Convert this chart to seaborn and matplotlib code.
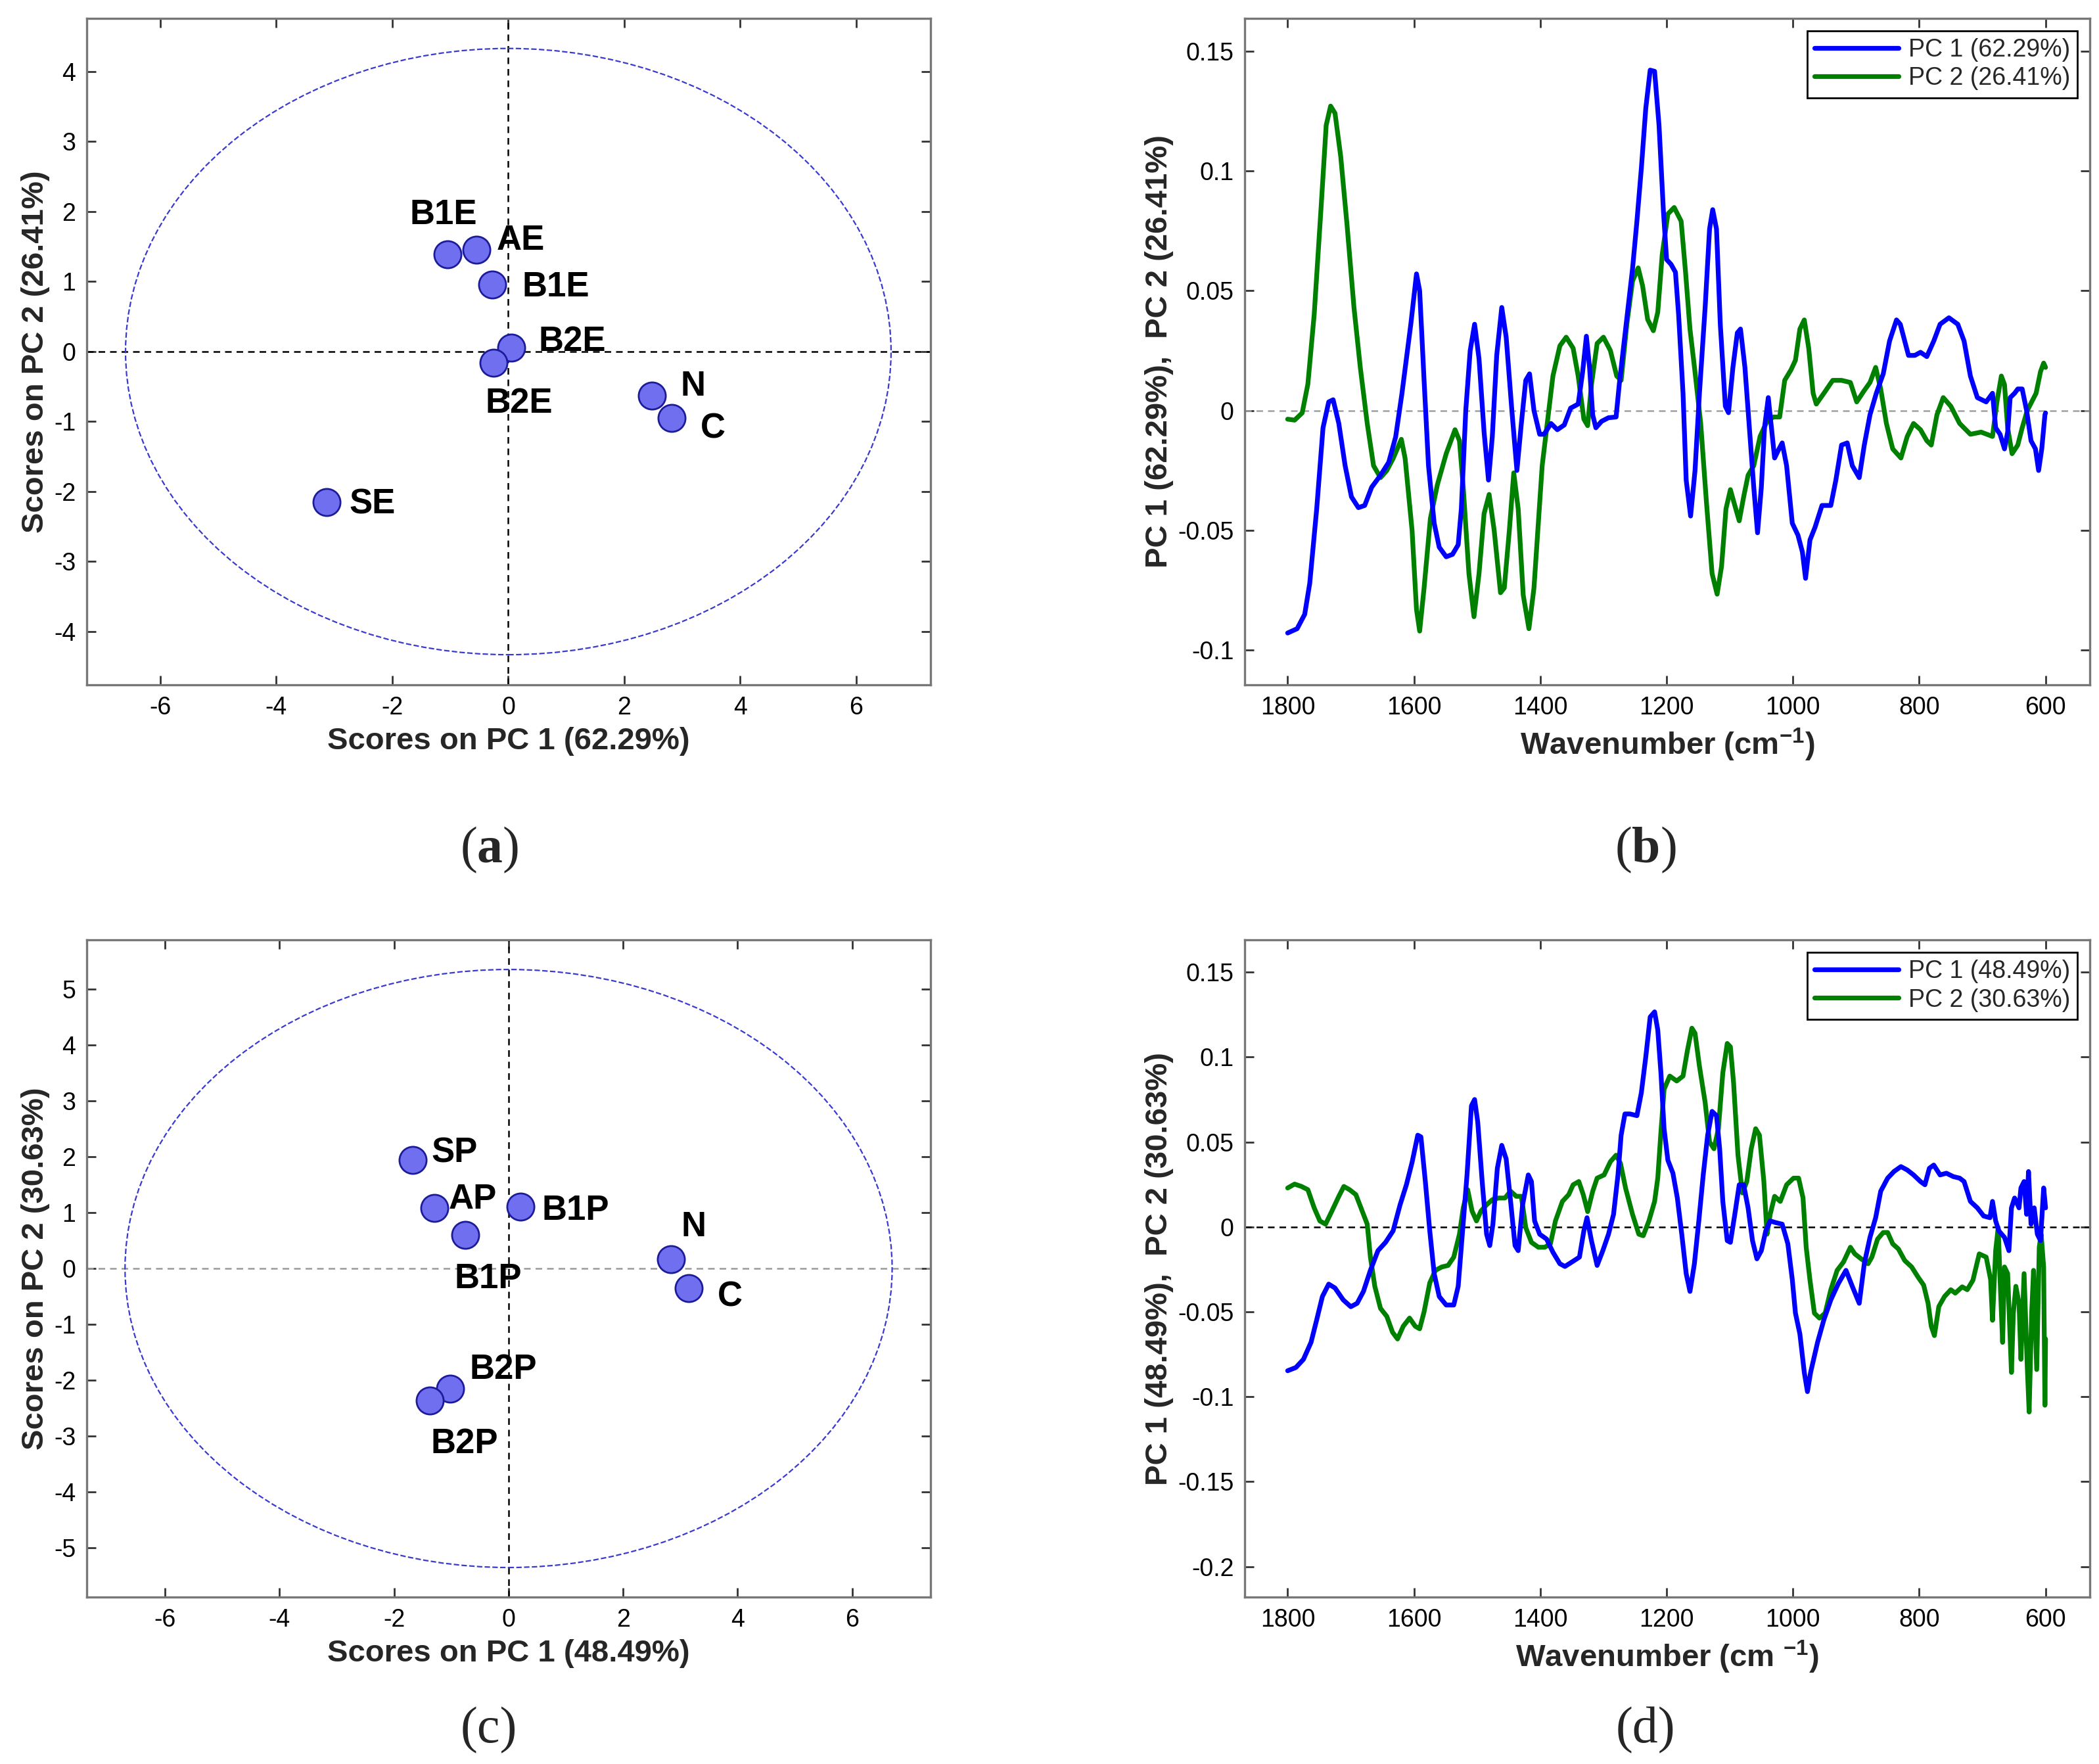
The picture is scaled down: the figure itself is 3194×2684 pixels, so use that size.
import numpy as np
import pandas as pd
import matplotlib
matplotlib.use('Agg')
import matplotlib.pyplot as plt
from matplotlib.patches import Ellipse
from matplotlib.ticker import FuncFormatter
import seaborn as sns

# ---- score plots (a) and (c) ----
names_a = ['B1E', 'AE', 'B1E', 'B2E', 'B2E', 'N', 'C', 'SE']
pc1_a = [-1.05, -0.55, -0.28, 0.05, -0.26, 2.48, 2.82, -3.13]
pc2_a = [1.39, 1.45, 0.96, 0.06, -0.16, -0.63, -0.95, -2.15]
ellipse_a = (6.6, 4.33)

names_c = ['SP', 'AP', 'B1P', 'B1P', 'N', 'C', 'B2P', 'B2P']
pc1_c = [-1.68, -1.30, 0.21, -0.76, 2.84, 3.15, -1.02, -1.38]
pc2_c = [1.94, 1.08, 1.11, 0.60, 0.16, -0.35, -2.15, -2.36]
ellipse_c = (6.7, 5.35)

# ---- loadings (b) ----
wn_b1 = [1800, 1785, 1773, 1765, 1754, 1744, 1735, 1728, 1719, 1709, 1699, 1688, 1678, 1667, 1653,
         1640, 1629, 1619, 1605, 1596, 1591, 1584, 1577, 1568, 1560, 1549, 1539, 1530, 1525, 1518,
         1511, 1504, 1497, 1489, 1482, 1476, 1469, 1461, 1454, 1445, 1437, 1430, 1423, 1417, 1410,
         1401, 1394, 1383, 1373, 1362, 1352, 1340, 1333, 1327, 1322, 1317, 1312, 1303, 1292, 1280,
         1275, 1268, 1261, 1254, 1247, 1240, 1233, 1226, 1219, 1212, 1205, 1200, 1193, 1186, 1181,
         1174, 1169, 1162, 1155, 1148, 1139, 1132, 1127, 1121, 1115, 1107, 1102, 1095, 1088, 1083,
         1076, 1069, 1062, 1056, 1050, 1045, 1039, 1034, 1029, 1022, 1017, 1010, 1001, 992, 985,
         980, 973, 965, 954, 940, 932, 923, 914, 906, 895, 887, 878, 868, 857, 847,
         836, 830, 817, 807, 798, 788, 777, 767, 753, 739, 729, 719, 708, 694, 684,
         679, 672, 665, 660, 656, 649, 644, 637, 630, 623, 616, 611, 606, 601, 600]
pc1_b = [-0.0928, -0.091, -0.085, -0.072, -0.041, -0.0072, 0.0036, 0.0045, -0.0054, -0.023, -0.036, -0.0405, -0.0396, -0.032, -0.027,
         -0.0216, -0.011, 0.0072, 0.036, 0.057, 0.050, 0.0126, -0.023, -0.047, -0.057, -0.061, -0.060, -0.056, -0.041, 0.0,
         0.025, 0.036, 0.0216, -0.009, -0.029, -0.011, 0.023, 0.043, 0.0306, 0.0, -0.025, -0.0054, 0.0126, 0.0153, 0.0,
         -0.0099, -0.0099, -0.0054, -0.008, -0.006, 0.001, 0.0027, 0.016, 0.031, 0.018, -0.0018, -0.0072, -0.0045, -0.003, -0.0027,
         0.0108, 0.027, 0.043, 0.059, 0.079, 0.101, 0.126, 0.142, 0.1415, 0.119, 0.083, 0.063, 0.061, 0.0577, 0.040,
         0.0072, -0.029, -0.044, -0.025, 0.0072, 0.043, 0.0757, 0.0838, 0.0757, 0.036, 0.0018, -0.0009, 0.018, 0.0324, 0.034,
         0.018, -0.0072, -0.032, -0.051, -0.032, -0.0072, 0.0054, -0.0072, -0.0198, -0.016, -0.0135, -0.023, -0.047, -0.052, -0.059,
         -0.070, -0.054, -0.0487, -0.0396, -0.0396, -0.029, -0.0144, -0.0135, -0.023, -0.028, -0.0144, -0.0018, 0.0072, 0.0153, 0.029,
         0.0378, 0.036, 0.023, 0.023, 0.0243, 0.0225, 0.029, 0.036, 0.0387, 0.036, 0.029, 0.0144, 0.0054, 0.0036, 0.0072,
         -0.0072, -0.0099, -0.016, -0.009, 0.0054, 0.0072, 0.009, 0.009, 0.0, -0.0126, -0.016, -0.025, -0.016, -0.0018, -0.001]

wn_b2 = [1800, 1789, 1777, 1768, 1758, 1747, 1739, 1732, 1725, 1716, 1706, 1695, 1685, 1674, 1664,
         1653, 1643, 1633, 1620, 1614, 1603, 1596, 1591, 1584, 1574, 1563, 1549, 1535, 1528, 1522,
         1513, 1505, 1497, 1489, 1481, 1473, 1463, 1457, 1449, 1442, 1435, 1427, 1418, 1410, 1397,
         1389, 1380, 1369, 1359, 1348, 1340, 1331, 1325, 1319, 1310, 1300, 1289, 1279, 1272, 1263,
         1254, 1245, 1238, 1230, 1221, 1214, 1207, 1198, 1188, 1177, 1170, 1163, 1155, 1146, 1137,
         1128, 1120, 1113, 1106, 1099, 1092, 1085, 1078, 1071, 1062, 1052, 1041, 1031, 1021, 1013,
         1003, 996, 989, 982, 975, 968, 963, 951, 937, 923, 909, 899, 888, 878, 869,
         861, 852, 842, 829, 819, 809, 798, 788, 781, 772, 762, 750, 736, 719, 702,
         684, 677, 670, 665, 660, 653, 644, 637, 629, 622, 615, 608, 603, 600]
pc2_b = [-0.0036, -0.004, -0.001, 0.011, 0.040, 0.085, 0.119, 0.127, 0.124, 0.106, 0.0775, 0.043, 0.018, -0.0054, -0.023,
         -0.028, -0.025, -0.020, -0.012, -0.020, -0.050, -0.083, -0.092, -0.074, -0.045, -0.031, -0.018, -0.008, -0.0126, -0.032,
         -0.068, -0.086, -0.068, -0.043, -0.035, -0.050, -0.076, -0.074, -0.050, -0.026, -0.041, -0.077, -0.091, -0.074, -0.023,
         -0.0054, 0.0144, 0.027, 0.0306, 0.026, 0.0144, -0.0036, -0.0063, 0.0108, 0.028, 0.0306, 0.025, 0.0144, 0.0126, 0.036,
         0.054, 0.0595, 0.052, 0.038, 0.0333, 0.041, 0.065, 0.082, 0.0847, 0.079, 0.0577, 0.034, 0.016, -0.0054, -0.038,
         -0.068, -0.0766, -0.065, -0.041, -0.033, -0.0396, -0.046, -0.036, -0.027, -0.023, -0.0108, -0.0045, -0.0027, -0.0027, 0.0126,
         0.017, 0.021, 0.034, 0.0378, 0.026, 0.0072, 0.0027, 0.0072, 0.0126, 0.0126, 0.0117, 0.0036, 0.008, 0.0117, 0.018,
         0.009, -0.0054, -0.016, -0.0198, -0.0108, -0.0054, -0.008, -0.0126, -0.0144, -0.0018, 0.0054, 0.0018, -0.0054, -0.0099, -0.009,
         -0.0108, 0.0036, 0.0144, 0.0108, -0.0072, -0.018, -0.0144, -0.0072, 0.0, 0.0036, 0.0072, 0.0162, 0.0198, 0.018]

# ---- loadings (d) ----
wn_d1 = [1800, 1787, 1775, 1763, 1754, 1745, 1735, 1725, 1712, 1700, 1690, 1680, 1669, 1657, 1645,
         1633, 1622, 1612, 1603, 1594, 1589, 1582, 1575, 1568, 1560, 1549, 1537, 1530, 1523, 1516,
         1509, 1504, 1499, 1492, 1485, 1480, 1475, 1468, 1461, 1454, 1447, 1440, 1435, 1428, 1419,
         1414, 1409, 1401, 1390, 1380, 1369, 1361, 1350, 1338, 1331, 1326, 1319, 1310, 1301, 1292,
         1284, 1277, 1272, 1266, 1258, 1247, 1240, 1233, 1226, 1219, 1214, 1209, 1204, 1198, 1190,
         1183, 1176, 1169, 1163, 1156, 1149, 1142, 1135, 1128, 1121, 1116, 1111, 1104, 1099, 1092,
         1085, 1078, 1071, 1064, 1057, 1050, 1043, 1036, 1027, 1017, 1008, 1001, 996, 989, 982,
         977, 972, 961, 951, 940, 928, 916, 906, 895, 887, 878, 869, 861, 850, 840,
         829, 819, 809, 798, 791, 784, 777, 767, 757, 746, 736, 729, 719, 708, 698,
         688, 684, 679, 674, 665, 658, 654, 649, 642, 639, 634, 630, 627, 623, 618,
         613, 608, 603, 600]
pc1_d = [-0.0847, -0.0828, -0.078, -0.068, -0.0547, -0.041, -0.0337, -0.036, -0.043, -0.047, -0.045, -0.038, -0.0256, -0.014, -0.0091,
         -0.0023, 0.013, 0.0248, 0.038, 0.054, 0.053, 0.0267, -0.0023, -0.0275, -0.041, -0.046, -0.046, -0.035, -0.0023, 0.0306,
         0.0713, 0.075, 0.0616, 0.0267, -0.0043, -0.011, 0.0016, 0.0345, 0.048, 0.040, 0.015, -0.011, -0.014, 0.013, 0.0306,
         0.0267, 0.0035, -0.0043, -0.0072, -0.0149, -0.0217, -0.0233, -0.0207, -0.0178, -0.0023, 0.0054, -0.0081, -0.0227, -0.014, -0.0043,
         0.0074, 0.0306, 0.054, 0.0665, 0.0665, 0.0655, 0.079, 0.100, 0.1236, 0.1266, 0.116, 0.0907, 0.0578, 0.0393, 0.0316,
         0.017, -0.0043, -0.0275, -0.038, -0.0217, 0.0035, 0.0306, 0.054, 0.068, 0.0655, 0.046, 0.015, -0.0081, -0.0091, 0.0074,
         0.0248, 0.0248, 0.0112, -0.0081, -0.0188, -0.014, -0.0023, 0.0035, 0.0025, 0.0016, -0.010, -0.031, -0.0508, -0.063, -0.0857,
         -0.097, -0.0857, -0.068, -0.0547, -0.043, -0.0333, -0.0256, -0.035, -0.045, -0.0217, -0.0062, 0.0054, 0.021, 0.0287, 0.0326,
         0.0355, 0.0335, 0.0306, 0.0267, 0.0248, 0.0345, 0.0364, 0.0306, 0.0316, 0.0296, 0.0287, 0.0267, 0.015, 0.0112, 0.0064,
         0.0054, 0.015, 0.0035, -0.0023, -0.0062, -0.014, 0.0112, 0.017, 0.0112, 0.0229, 0.0267, 0.0074, 0.0326, 0.0016, 0.0112,
         -0.0043, -0.0081, 0.0229, 0.0112]

wn_d2 = [1800, 1789, 1778, 1768, 1758, 1749, 1740, 1730, 1719, 1711, 1702, 1692, 1683, 1674, 1669,
         1662, 1653, 1643, 1634, 1626, 1617, 1607, 1598, 1591, 1584, 1575, 1566, 1556, 1546, 1537,
         1528, 1522, 1515, 1508, 1501, 1494, 1485, 1476, 1466, 1456, 1447, 1438, 1430, 1423, 1414,
         1403, 1393, 1384, 1376, 1365, 1355, 1348, 1339, 1332, 1325, 1317, 1310, 1299, 1289, 1280,
         1273, 1265, 1254, 1244, 1237, 1228, 1219, 1214, 1209, 1204, 1195, 1184, 1174, 1167, 1160,
         1155, 1148, 1139, 1132, 1125, 1118, 1111, 1104, 1099, 1094, 1087, 1080, 1073, 1066, 1059,
         1053, 1046, 1041, 1036, 1029, 1020, 1010, 999, 991, 984, 979, 973, 966, 958, 949,
         940, 930, 920, 909, 902, 892, 881, 875, 866, 857, 850, 842, 833, 823, 812,
         802, 793, 786, 781, 776, 769, 760, 750, 743, 732, 724, 715, 710, 705, 694,
         687, 684, 679, 675, 672, 668, 665, 660, 654, 651, 647, 642, 639, 634, 629,
         626, 622, 619, 614, 610, 607, 603, 601, 600]
pc2_d = [0.0229, 0.0252, 0.0238, 0.0219, 0.0112, 0.0035, 0.0016, 0.0093, 0.018, 0.0238, 0.0219, 0.019, 0.0103, 0.0016, -0.0178,
         -0.035, -0.048, -0.0527, -0.062, -0.066, -0.0585, -0.0537, -0.0585, -0.060, -0.050, -0.033, -0.0256, -0.0236, -0.0227, -0.0178,
         -0.0043, 0.0112, 0.0219, 0.0093, 0.0035, 0.0093, 0.013, 0.016, 0.017, 0.017, 0.021, 0.018, 0.018, -0.0004, -0.0091,
         -0.012, -0.012, -0.010, 0.0035, 0.015, 0.019, 0.0248, 0.0267, 0.019, 0.0090, 0.021, 0.0287, 0.0306, 0.0384, 0.0422,
         0.0374, 0.0229, 0.0074, -0.0043, -0.0052, 0.0035, 0.015, 0.0287, 0.0558, 0.081, 0.0888, 0.0859, 0.0888, 0.104, 0.117,
         0.114, 0.0946, 0.0733, 0.050, 0.046, 0.0578, 0.0907, 0.108, 0.106, 0.085, 0.0422, 0.020, 0.0267, 0.046, 0.0578,
         0.054, 0.0267, -0.0043, 0.0074, 0.018, 0.015, 0.0248, 0.0287, 0.0287, 0.017, -0.012, -0.0314, -0.0508, -0.0537, -0.0508,
         -0.037, -0.0256, -0.0207, -0.012, -0.0159, -0.0188, -0.0217, -0.0178, -0.0072, -0.0033, -0.0033, -0.010, -0.013, -0.0198, -0.0236,
         -0.0295, -0.0343, -0.045, -0.0585, -0.064, -0.0469, -0.041, -0.037, -0.039, -0.0353, -0.037, -0.0314, -0.0236, -0.0159, -0.0178,
         -0.031, -0.055, -0.014, -0.0004, -0.031, -0.068, -0.0236, -0.0275, -0.0857, -0.0508, -0.035, -0.045, -0.078, -0.0275, -0.082,
         -0.109, -0.0508, -0.0256, -0.084, -0.012, -0.0043, -0.0236, -0.105, -0.066]

ticks_spec_b = [-0.1, -0.05, 0, 0.05, 0.1, 0.15]
ticks_spec_d = [-0.2, -0.15, -0.1, -0.05, 0, 0.05, 0.1, 0.15]
ticks_wn = [1800, 1600, 1400, 1200, 1000, 800, 600]

sns.set_theme(style='white')
plt.rcParams['font.family'] = ['Liberation Sans', 'DejaVu Sans']
plt.rcParams['axes.unicode_minus'] = False
plt.rcParams['mathtext.fontset'] = 'custom'
plt.rcParams['mathtext.rm'] = 'Liberation Sans:bold'
plt.rcParams['mathtext.bf'] = 'Liberation Serif:bold'

fig = plt.figure(figsize=(15.97, 13.42), dpi=200)
ax_a = fig.add_axes([0.0413, 0.6118, 0.402, 0.3778])
ax_b = fig.add_axes([0.593, 0.6118, 0.4026, 0.3778])
ax_c = fig.add_axes([0.0413, 0.0946, 0.402, 0.3726])
ax_d = fig.add_axes([0.593, 0.0946, 0.4026, 0.3726])

frame = '#777777'
for ax in (ax_a, ax_b, ax_c, ax_d):
    for sp in ax.spines.values():
        sp.set_color(frame)
        sp.set_linewidth(1.2)
    ax.tick_params(direction='in', length=5, width=1.0, color='#333333',
                   top=True, right=True, labelsize=13.5, labelcolor='black',
                   bottom=True, left=True, pad=6)


def score_plot(ax, names, x, y, ell, offsets, hcolor, xlim, ylim, yticks, xlabel, ylabel):
    ax.axhline(0, ls='--', color=hcolor, lw=0.9, dashes=(4, 3), zorder=1)
    ax.axvline(0, ls='--', color='black', lw=0.9, dashes=(4, 3), zorder=1)
    ax.add_patch(Ellipse((0, 0), 2 * ell[0], 2 * ell[1], fill=False, ls='--',
                         lw=0.8, edgecolor='#3a3ad0', zorder=1))
    df = pd.DataFrame({'x': x, 'y': y, 'name': names})
    sns.scatterplot(data=df, x='x', y='y', ax=ax, s=220, color='#6f6ff0',
                    edgecolor='#1c1c9a', linewidth=1.0, zorder=3, legend=False)
    for (nm, px, py), (dx, dy) in zip(zip(names, x, y), offsets):
        ax.text(px + dx, py + dy, nm, ha='center', va='center',
                fontsize=19, fontweight='bold', color='black', zorder=4)
    ax.set_xlim(*xlim)
    ax.set_ylim(*ylim)
    ax.set_xticks([-6, -4, -2, 0, 2, 4, 6])
    ax.set_yticks(yticks)
    ax.set_xlabel(xlabel, fontsize=17, fontweight='bold', labelpad=4)
    ax.set_ylabel(ylabel, fontsize=17, fontweight='bold', labelpad=2)


off_a = [(-0.07, 0.56), (0.76, 0.14), (1.10, -0.04), (1.05, 0.08),
         (0.45, -0.58), (0.70, 0.13), (0.71, -0.15), (0.78, -0.03)]
off_c = [(0.73, 0.13), (0.67, 0.16), (0.96, -0.07), (0.40, -0.79),
         (0.39, 0.58), (0.72, -0.16), (0.93, 0.34), (0.61, -0.78)]

score_plot(ax_a, names_a, pc1_a, pc2_a, ellipse_a, off_a, 'black',
           (-7.27, 7.28), (-4.76, 4.76), [-4, -3, -2, -1, 0, 1, 2, 3, 4],
           'Scores on PC 1 (62.29%)', 'Scores on PC 2 (26.41%)')
score_plot(ax_c, names_c, pc1_c, pc2_c, ellipse_c, off_c, '#9a9a9a',
           (-7.37, 7.37), (-5.88, 5.88), [-5, -4, -3, -2, -1, 0, 1, 2, 3, 4, 5],
           'Scores on PC 1 (48.49%)', 'Scores on PC 2 (30.63%)')


def loading_plot(ax, w1, v1, w2, v2, lab1, lab2, zcolor, ylim, yticks, xlabel, ylabel):
    ax.axhline(0, ls='--', color=zcolor, lw=0.9, dashes=(4, 3), zorder=1)
    sns.lineplot(x=w1, y=v1, ax=ax, color='#0000ff', lw=2.6, label=lab1,
                 sort=False, estimator=None, zorder=3)
    sns.lineplot(x=w2, y=v2, ax=ax, color='#008000', lw=2.6, label=lab2,
                 sort=False, estimator=None, zorder=2)
    ax.set_xlim(1868, 530)
    ax.set_ylim(*ylim)
    ax.set_xticks(ticks_wn)
    ax.set_yticks(yticks)
    ax.yaxis.set_major_formatter(FuncFormatter(lambda v, p: f'{round(v, 3):g}'))
    ax.set_xlabel(xlabel, fontsize=17, fontweight='bold', labelpad=4)
    ax.set_ylabel(ylabel, fontsize=17, fontweight='bold', labelpad=2)
    leg = ax.legend(loc='upper right', fontsize=13.5, frameon=True, fancybox=False,
                    edgecolor='black', framealpha=1, borderaxespad=0.5, borderpad=0.3,
                    labelspacing=0.2, handlelength=3.4, handletextpad=0.4)
    leg.get_frame().set_linewidth(1.0)


loading_plot(ax_b, wn_b1, pc1_b, wn_b2, pc2_b, 'PC 1 (62.29%)', 'PC 2 (26.41%)',
             '#a0a0a0', (-0.1144, 0.1636), ticks_spec_b,
             r'Wavenumber (cm$^{-1}$)', 'PC 1 (62.29%),  PC 2 (26.41%)')
loading_plot(ax_d, wn_d1, pc1_d, wn_d2, pc2_d, 'PC 1 (48.49%)', 'PC 2 (30.63%)',
             'black', (-0.218, 0.169), ticks_spec_d,
             r'Wavenumber (cm $^{-1}$)', 'PC 1 (48.49%),  PC 2 (30.63%)')

# panel letters: (a) and (b) have a bold letter, (c) and (d) are plain
for lab, x, y in [(r'($\mathbf{a}$)', 0.233, 0.518), (r'($\mathbf{b}$)', 0.784, 0.518),
                  ('(c)', 0.233, 0.019), ('(d)', 0.784, 0.019)]:
    fig.text(x, y, lab, ha='center', va='center', fontsize=28,
             family=['Liberation Serif', 'DejaVu Serif'])

fig.savefig('out.png', dpi=200, facecolor='white')
